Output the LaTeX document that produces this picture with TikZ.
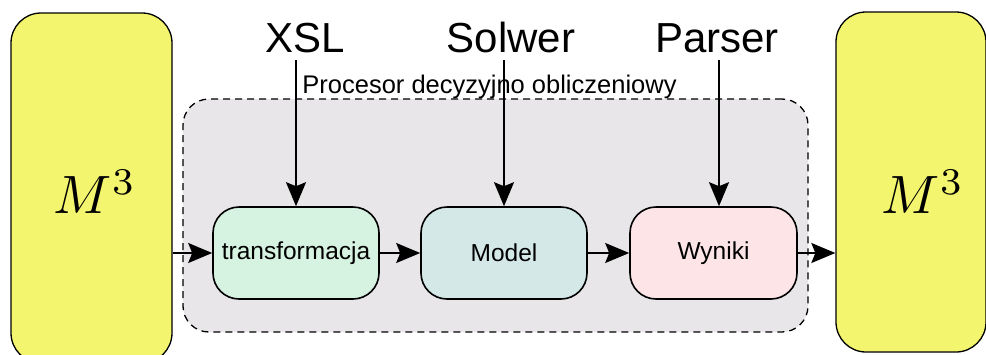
\documentclass[tikz,border=0pt]{standalone}
\usepackage[no-math]{fontspec}
\setmainfont{Liberation Sans}
\usetikzlibrary{arrows.meta}
\definecolor{yel}{RGB}{244,245,110}
\definecolor{grayfill}{RGB}{232,230,232}
\definecolor{tfill}{RGB}{214,242,224}
\definecolor{mfill}{RGB}{213,232,232}
\definecolor{wfill}{RGB}{253,228,230}
\tikzset{
  bigbox/.style={draw=black, line width=1.3pt, fill=yel, rounded corners=30pt, inner sep=0pt},
  procbox/.style={draw=black, line width=1.6pt, rounded corners=26pt, minimum width=166pt, minimum height=92pt, inner sep=0pt, font=\fontsize{24.5}{24.5}\selectfont},
  arr/.style={line width=1.7pt, -{Stealth[length=24pt,width=20pt,inset=4pt]}},
  toplabel/.style={font=\fontsize{42}{42}\selectfont, anchor=base, inner sep=0pt},
  mlabel/.style={scale=5.4, inner sep=0pt}
}
\begin{document}
\begin{tikzpicture}[x=1pt, y=-1pt]
\useasboundingbox (0,0) rectangle (986,354);
\clip (0,0) rectangle (986,354);
% outer yellow boxes
\node[bigbox, minimum width=161pt, minimum height=350pt] (lbox) at (91.5,188) {};
\node[bigbox, minimum width=150pt, minimum height=340pt] (rbox) at (911,182) {};
\node[mlabel] (lm) at (95,192) {$M^3$};
\node[mlabel] (rm) at (923,192) {$M^3$};
% container
\node[draw=black, line width=1.3pt, dash pattern=on 7pt off 5pt, fill=grayfill, rounded corners=26pt, minimum width=625pt, minimum height=233pt, inner sep=0pt] (proc) at (495.5,215.5) {};
\node[font=\fontsize{25.5}{25.5}\selectfont, anchor=base, inner sep=0pt] (proclabel) at (489.5,93) {Procesor decyzyjno obliczeniowy};
% inner boxes
\node[procbox, fill=tfill] (t) at (296,253) {transformacja};
\node[procbox, fill=mfill] (m) at (504,253) {Model};
\node[procbox, fill=wfill, minimum width=167pt] (w) at (713.5,253) {Wyniki};
% top labels
\node[toplabel] (xsl) at (305,52) {XSL};
\node[toplabel] (solwer) at (511,52) {Solwer};
\node[toplabel] (parser) at (717,52) {Parser};
\coordinate (xslin) at (296,60);
\coordinate (solin) at (504,60);
\coordinate (parin) at (719,60);
% arrows
\draw[arr] (xslin) -- (xslin |- t.north);
\draw[arr] (solin) -- (solin |- m.north);
\draw[arr] (parin) -- (parin |- w.north);
\draw[arr] (t.west -| lbox.east) -- (t.west);
\draw[arr] (t.east) -- (m.west);
\draw[arr] (m.east) -- (w.west);
\draw[arr] (w.east) -- (w.east -| rbox.west);
\end{tikzpicture}
\end{document}
